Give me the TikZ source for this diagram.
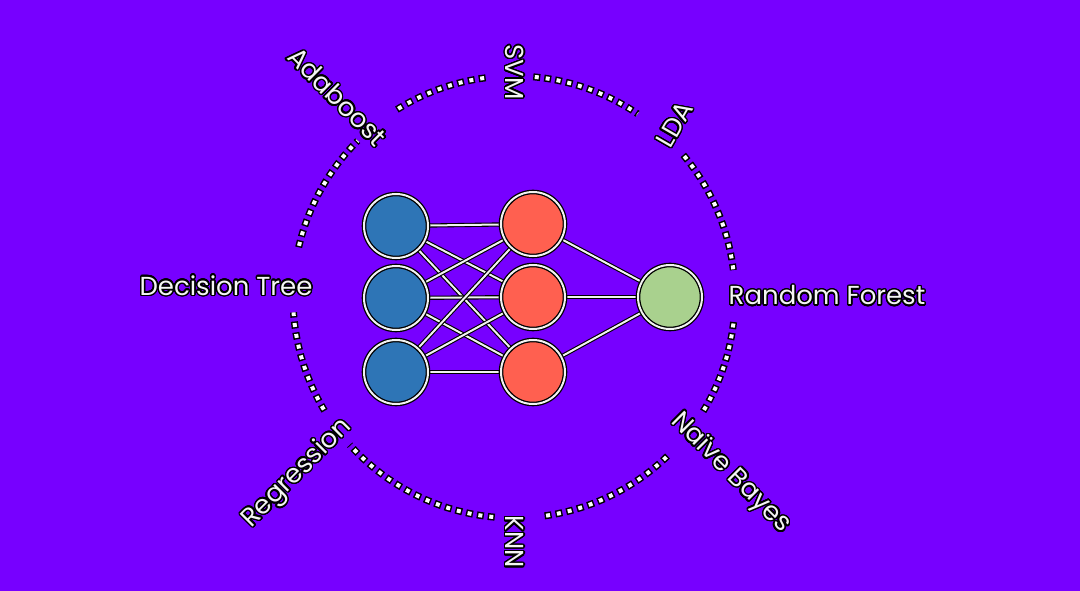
\documentclass[tikz,border=0pt]{standalone}
\usepackage{fontspec}
\setmainfont{Poppins}
\usepackage{contour}
\contourlength{1.4pt}
\contournumber{24}
\begin{document}
\begin{tikzpicture}[x=1pt,y=-1pt,
  neuron/.style={circle,minimum size=64pt,inner sep=0pt,draw=black,double=white!90!gray,double distance=2pt,line width=1.3pt},
  link/.style={draw=black,double=white!90!gray,double distance=2pt,line width=1.1pt},
  lbl/.style={font=\fontsize{26}{26}\selectfont,text=white!92!gray,inner sep=0pt}]
\fill[fill={rgb,255:red,119;green,0;blue,255}] (0,0) rectangle (1080,591);
\def\R{221}
\coordinate (c) at (514,297);
\foreach \a/\b in {122/97, 85/56, 40/7, -6.5/-32, -46/-83, -95/-138, -149/-176, 167/135}{
  \draw[black,line width=7pt,dash pattern=on 7pt off 4pt] ([shift={(-\a:\R)}]c) arc[start angle=-\a,end angle=-\b,radius=\R];
  \draw[white,line width=4pt,dash pattern=on 4pt off 7pt,dash phase=-1.5pt] ([shift={(-\a:\R)}]c) arc[start angle=-\a,end angle=-\b,radius=\R];
}
\foreach \i/\y in {1/226,2/298,3/372}{
  \coordinate (b\i) at (396,\y);
}
\foreach \i/\y in {1/224,2/297,3/372}{
  \coordinate (r\i) at (533,\y);
}
\coordinate (g) at (670,297);
\foreach \i in {1,2,3}{\foreach \j in {1,2,3}{\draw[link] (b\i) -- (r\j);}
  \draw[link] (r\i) -- (g);}
\foreach \i in {1,2,3}{
  \node[neuron,fill={rgb,255:red,46;green,117;blue,182}] (B\i) at (b\i) {};
  \node[neuron,fill={rgb,255:red,255;green,96;blue,80}] (RR\i) at (r\i) {};}
\node[neuron,fill={rgb,255:red,169;green,209;blue,142}] (G) at (g) {};
\node[lbl,rotate=-90] (svm) at (514,72) {\contour{black}{SVM}};
\node[lbl,rotate=-90] (knn) at (514,542) {\contour{black}{KNN}};
\node[lbl,rotate=-45] (ada) at (337,97) {\contour{black}{Adaboost}};
\node[lbl,rotate=60] (lda) at (675,125) {\contour{black}{LDA}};
\node[lbl] (dt) at (226,286) {\contour{black}{Decision Tree}};
\node[lbl] (rf) at (827,296) {\contour{black}{Random Forest}};
\node[lbl,rotate=45] (reg) at (298,474) {\contour{black}{Regression}};
\node[lbl,rotate=-45] (nb) at (730,474) {\contour{black}{Naïve Bayes}};
\end{tikzpicture}
\end{document}
